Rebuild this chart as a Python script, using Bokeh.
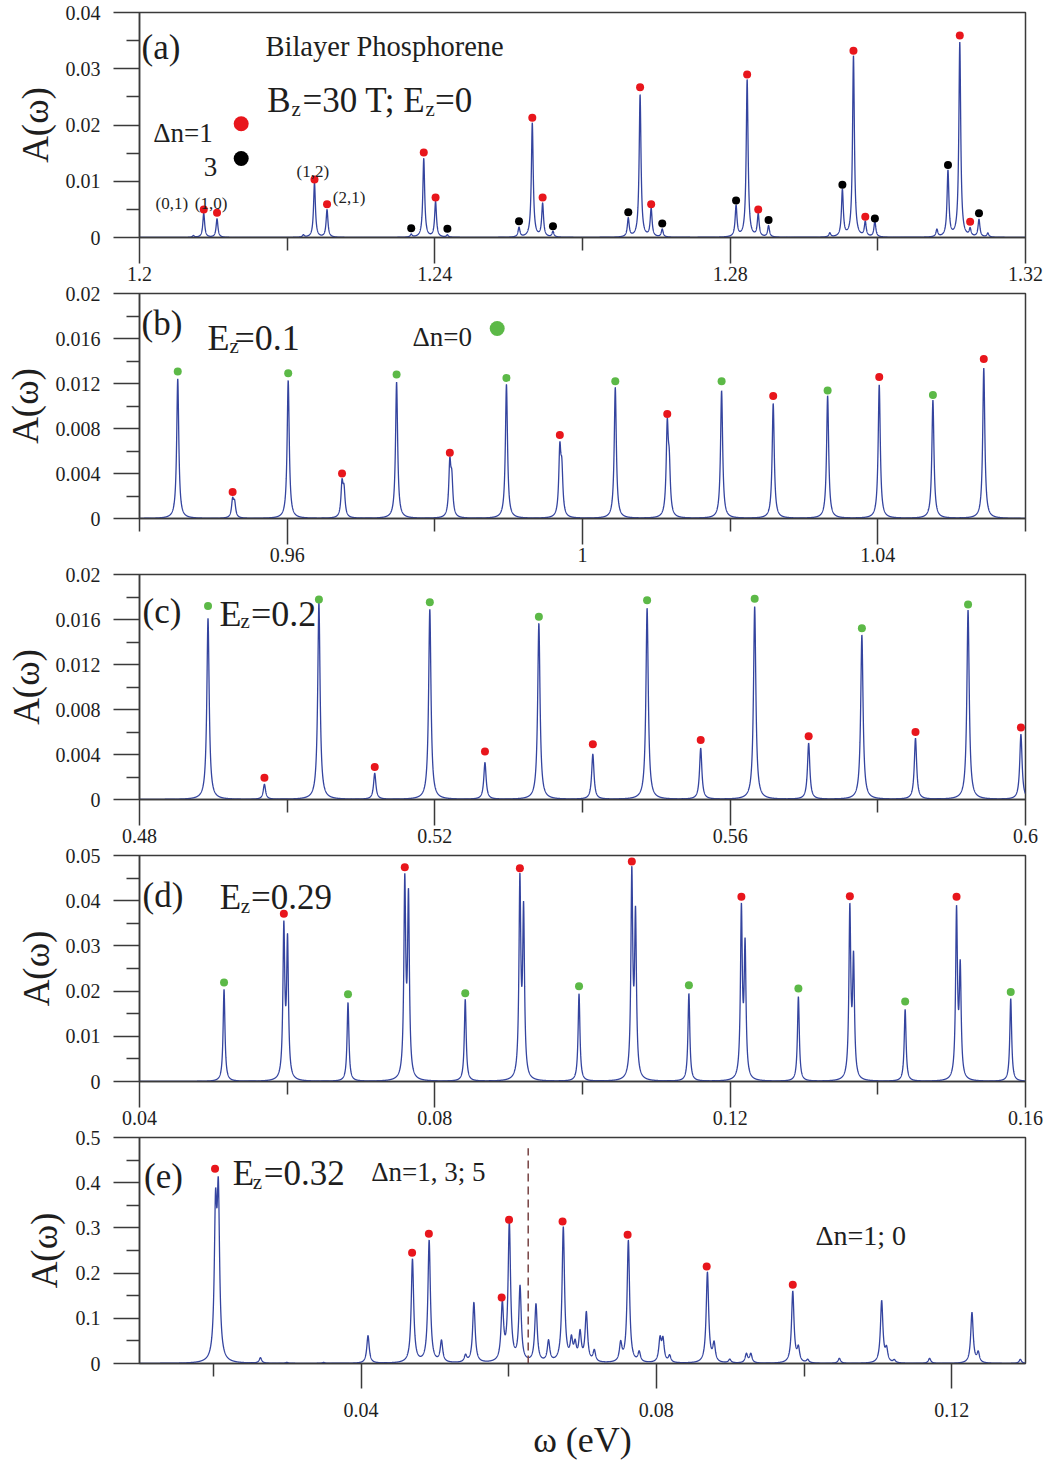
import numpy as np
from bokeh.plotting import figure
from bokeh.models import FixedTicker, Label, CustomJSTickFormatter
from bokeh.layouts import column
from bokeh.embed import file_html
from bokeh.resources import INLINE

FONT = "Liberation Serif"
INK = "#1e1e1e"
AXIS = "#3a3a3a"
CURVE = "#34449f"
RED = "#e8161c"
GREEN = "#5cb947"
BLACK = "#000000"
DASH = "#7d4b4b"
TOTAL_W = 1045

# ------------------------------------------------------------------ data
# (a) Bz = 30 T, Ez = 0
a_peak_x = [1.2073, 1.2087, 1.2105, 1.2222, 1.2237, 1.2254, 1.2368, 1.2385, 1.2401, 1.2417,
            1.2514, 1.2532, 1.2546, 1.2560, 1.2662, 1.2678, 1.2693, 1.2708,
            1.2808, 1.2823, 1.2838, 1.2852, 1.2935, 1.2952, 1.2967, 1.2983, 1.2996,
            1.3080, 1.3095, 1.3111, 1.3125, 1.3137, 1.3149]
a_peak_h = [0.0003, 0.0043, 0.0033, 0.0004, 0.0097, 0.0049, 0.0005, 0.0140, 0.0063, 0.0004,
            0.0017, 0.0203, 0.0059, 0.0010, 0.0033, 0.0253, 0.0050, 0.0014,
            0.0055, 0.0280, 0.0040, 0.0020, 0.0007, 0.0083, 0.0322, 0.0026, 0.0028,
            0.0013, 0.0117, 0.0346, 0.0013, 0.0031, 0.0007]
a_gamma = 0.00015
a_red_x = [1.2087, 1.2105, 1.2237, 1.2254, 1.2385, 1.2401, 1.2532, 1.2546, 1.2678, 1.2693,
           1.2823, 1.2838, 1.2967, 1.2983, 1.3111, 1.3125]
a_red_y = [0.0050, 0.0044, 0.0103, 0.0059, 0.0151, 0.0071, 0.0213, 0.0071, 0.0267, 0.0059,
           0.0290, 0.0050, 0.0332, 0.0037, 0.0359, 0.0028]
a_black_x = [1.2368, 1.2417, 1.2514, 1.2560, 1.2662, 1.2708, 1.2808, 1.2852, 1.2952, 1.2996,
             1.3095, 1.3137]
a_black_y = [0.00165, 0.00155, 0.0029, 0.0020, 0.0045, 0.0025, 0.0066, 0.0031, 0.0094, 0.0034,
             0.0129, 0.0043]

# (b) Ez = 0.1
b_peak_x = [0.94518, 0.95261, 0.95288, 0.96014, 0.96743, 0.96770, 0.97482, 0.98203, 0.98230,
            0.98970, 0.99693, 0.99720, 1.00444, 1.01148, 1.01175, 1.01884, 1.02583, 1.03320,
            1.04019, 1.04746, 1.05435]
b_peak_h = [0.01241, 0.00151, 0.00124, 0.01226, 0.00288, 0.00222, 0.01211, 0.00459, 0.00302,
            0.01190, 0.00572, 0.00375, 0.01163, 0.00776, 0.00397, 0.01134, 0.01020, 0.01089,
            0.01187, 0.01050, 0.01335]
b_gamma = 0.00017
b_green_x = [0.94518, 0.96014, 0.97482, 0.98970, 1.00444, 1.01884, 1.03320, 1.04746]
b_green_y = [0.01306, 0.01291, 0.01279, 0.01250, 0.01220, 0.01220, 0.01137, 0.01098]
b_red_x = [0.95261, 0.96743, 0.98203, 0.99693, 1.01148, 1.02583, 1.04019, 1.05435]
b_red_y = [0.00236, 0.00399, 0.00585, 0.00742, 0.00929, 0.01089, 0.01258, 0.01418]

# (c) Ez = 0.2
c_peak_x = [0.48928, 0.49692, 0.50430, 0.51186, 0.51932, 0.52679, 0.53409, 0.54140,
            0.54875, 0.55601, 0.56332, 0.57063, 0.57784, 0.58510, 0.59222, 0.59938]
c_peak_h = [0.01609, 0.00133, 0.01748, 0.00231, 0.01689, 0.00326, 0.01564, 0.00400,
            0.01698, 0.00453, 0.01713, 0.00498, 0.01461, 0.00542, 0.01683, 0.00578]
c_gamma = 0.00019
c_green_x = [0.48928, 0.50430, 0.51932, 0.53409, 0.54875, 0.56332, 0.57784, 0.59222]
c_green_y = [0.01719, 0.01778, 0.01754, 0.01624, 0.01772, 0.01784, 0.01523, 0.01733]
c_red_x = [0.49692, 0.51186, 0.52679, 0.54140, 0.55601, 0.57063, 0.58510, 0.59938]
c_red_y = [0.00193, 0.00290, 0.00427, 0.00492, 0.00530, 0.00563, 0.00599, 0.00640]

# (d) Ez = 0.29
d_peak_x = [0.05145, 0.05955, 0.06005, 0.06824, 0.07593, 0.07643, 0.08412, 0.09152, 0.09202,
            0.09953, 0.10668, 0.10718, 0.11441, 0.12152, 0.12202, 0.12924, 0.13621, 0.13671,
            0.14370, 0.15066, 0.15116, 0.15800]
d_peak_h = [0.02035, 0.0331, 0.0300, 0.01740, 0.0428, 0.0392, 0.01810, 0.0431, 0.0363,
            0.01930, 0.0447, 0.0351, 0.01940, 0.0371, 0.0287, 0.01870, 0.0373, 0.0258,
            0.01590, 0.0370, 0.0239, 0.01830]
d_gamma = 0.00015
d_green_x = [0.05145, 0.06824, 0.08412, 0.09953, 0.11441, 0.12924, 0.14370, 0.15800]
d_green_y = [0.0219, 0.0193, 0.0195, 0.0211, 0.0213, 0.0206, 0.0177, 0.0198]
d_red_x = [0.05955, 0.07593, 0.09152, 0.10668, 0.12152, 0.13621, 0.15066]
d_red_y = [0.0371, 0.0474, 0.0472, 0.0487, 0.0409, 0.0410, 0.0409]

# (e) Ez = 0.32
e_peak_x = [0.02030, 0.02068, 0.02638, 0.02995, 0.03493, 0.04095, 0.04697, 0.04923, 0.05090,
            0.05416, 0.05529, 0.05914, 0.06009, 0.06154, 0.06370, 0.06540, 0.06740, 0.06850,
            0.06900, 0.06967, 0.07052, 0.07160, 0.07517, 0.07621, 0.07768, 0.08050, 0.08090,
            0.08180, 0.08692, 0.08782, 0.08995, 0.09220, 0.09280, 0.09848, 0.09924, 0.10050,
            0.10479, 0.11052, 0.11118, 0.11223, 0.11701, 0.12275, 0.12360, 0.12930]
e_peak_h = [0.311, 0.344, 0.012, 0.002, 0.002, 0.061, 0.229, 0.270, 0.047,
            0.015, 0.133, 0.125, 0.305, 0.165, 0.128, 0.046, 0.298, 0.045,
            0.035, 0.062, 0.108, 0.025, 0.040, 0.270, 0.022, 0.050, 0.048,
            0.015, 0.200, 0.040, 0.008, 0.020, 0.020, 0.158, 0.030, 0.007,
            0.011, 0.137, 0.028, 0.006, 0.011, 0.112, 0.022, 0.009]
e_gamma = 0.0002
e_red_x = [0.02023, 0.04692, 0.04919, 0.05905, 0.06005, 0.06730, 0.07611, 0.08682, 0.09848]
e_red_y = [0.431, 0.2448, 0.2869, 0.146, 0.3178, 0.314, 0.2846, 0.2146, 0.174]
e_dash_x = 0.06265
e_dash_top = 0.476

# axis ticks
a_xt = ([1.2, 1.24, 1.28, 1.32], ["1.2", "1.24", "1.28", "1.32"], [1.22, 1.26, 1.30])
a_yt = ([0, 0.01, 0.02, 0.03, 0.04], ["0", "0.01", "0.02", "0.03", "0.04"],
        [0.005, 0.015, 0.025, 0.035])
b_xt = ([0.96, 1.0, 1.04], ["0.96", "1", "1.04"], [0.94, 0.98, 1.02, 1.06])
bc_yt = ([0, 0.004, 0.008, 0.012, 0.016, 0.02], ["0", "0.004", "0.008", "0.012", "0.016", "0.02"],
         [0.002, 0.006, 0.010, 0.014, 0.018])
c_xt = ([0.48, 0.52, 0.56, 0.6], ["0.48", "0.52", "0.56", "0.6"], [0.50, 0.54, 0.58])
d_xt = ([0.04, 0.08, 0.12, 0.16], ["0.04", "0.08", "0.12", "0.16"], [0.06, 0.10, 0.14])
d_yt = ([0, 0.01, 0.02, 0.03, 0.04, 0.05], ["0", "0.01", "0.02", "0.03", "0.04", "0.05"],
        [0.005, 0.015, 0.025, 0.035, 0.045])
e_xt = ([0.04, 0.08, 0.12], ["0.04", "0.08", "0.12"], [0.02, 0.06, 0.10])
e_yt = ([0, 0.1, 0.2, 0.3, 0.4, 0.5], ["0", "0.1", "0.2", "0.3", "0.4", "0.5"],
        [0.05, 0.15, 0.25, 0.35, 0.45])


# ------------------------------------------------------------------ helpers
def spectrum(xr, centers, heights, gamma, n=12000):
    x = np.linspace(xr[0], xr[1], n)
    y = np.zeros(n)
    for c, h in zip(centers, heights):
        y += h * gamma ** 2 / ((x - c) ** 2 + gamma ** 2)
    return x, y


def fmt(ticks, labels):
    return CustomJSTickFormatter(args=dict(t=list(ticks), l=list(labels)), code="""
        for (let i = 0; i < t.length; i++) { if (Math.abs(t[i] - tick) < 1e-9) return l[i]; }
        return "";""")


def style_axis(ax, ticks, tick_out, standoff):
    major, labels, minor = ticks
    ax.ticker = FixedTicker(ticks=major, minor_ticks=minor)
    ax.formatter = fmt(major, labels)
    ax.axis_line_color = AXIS
    ax.axis_line_width = 1.5
    ax.major_tick_line_color = AXIS
    ax.major_tick_line_width = 1.5
    ax.minor_tick_line_color = AXIS
    ax.minor_tick_line_width = 1.5
    ax.major_tick_in = 0
    ax.minor_tick_in = 0
    ax.major_tick_out = tick_out
    ax.minor_tick_out = 13
    ax.major_label_standoff = standoff
    ax.major_label_text_font = FONT
    ax.major_label_text_font_size = "20px"
    ax.major_label_text_color = INK
    ax.axis_label_text_font = FONT
    ax.axis_label_text_font_style = "normal"
    ax.axis_label_text_color = INK


def build(ref, xr, yr, btop, bbot, xt, yt, ylab_standoff, xstand=3, xtick=26):
    l, t, r, b = ref
    fw, fh = r - l, b - t
    right = TOTAL_W - l - fw
    p = figure(frame_width=fw, frame_height=fh, x_range=xr, y_range=yr,
               output_backend="svg", toolbar_location=None,
               min_border_left=l, min_border_right=right,
               min_border_top=btop, min_border_bottom=bbot)
    p.xgrid.grid_line_color = None
    p.ygrid.grid_line_color = None
    p.outline_line_color = AXIS
    p.outline_line_width = 1.5
    p.background_fill_color = "white"
    p.border_fill_color = "white"
    style_axis(p.xaxis[0], xt, xtick, xstand)
    style_axis(p.yaxis[0], yt, 26, 13)
    p.yaxis[0].axis_label = "A(ω)"
    p.yaxis[0].axis_label_text_font_size = "37px"
    p.yaxis[0].axis_label_standoff = ylab_standoff

    def at(px, py):
        return (xr[0] + (px - l) / fw * (xr[1] - xr[0]),
                yr[0] + (b - py) / fh * (yr[1] - yr[0]))
    return p, at


def text(p, at, s, px, py, size):
    x, y = at(px, py)
    p.add_layout(Label(x=x, y=y, text=s, text_font=FONT, text_font_size=f"{size}px",
                       text_color=INK, text_align="left", text_baseline="alphabetic"))


def big_dot(p, at, px, py, color):
    x, y = at(px, py)
    p.scatter([x], [y], size=15, fill_color=color, line_color=None)


def curve(p, xr, px, ph, g):
    x, y = spectrum(xr, px, ph, g)
    p.line(x, y, line_color=CURVE, line_width=1.3)


def dots(p, xs, ys, color):
    p.scatter(xs, ys, size=8, fill_color=color, line_color=None)


# ------------------------------------------------------------------ panel (a)
pa, ata = build((139, 12, 1025, 237), (1.2, 1.32), (0, 0.04), 12, 46, a_xt, a_yt, 7)
curve(pa, (1.2, 1.32), a_peak_x, a_peak_h, a_gamma)
dots(pa, a_red_x, a_red_y, RED)
dots(pa, a_black_x, a_black_y, BLACK)
text(pa, ata, "(a)", 141, 46.7, 35)
text(pa, ata, "Bilayer Phosphorene", 265, 45.7, 28.5)
text(pa, ata, "B", 266.7, 100, 35)
text(pa, ata, "z", 291, 108, 21)
text(pa, ata, "=30 T; E", 302, 100, 35)
text(pa, ata, "z", 425, 108, 21)
text(pa, ata, "=0", 434.5, 100, 35)
text(pa, ata, "Δn=1", 152.7, 132.3, 27)
text(pa, ata, "3", 203.3, 166.7, 27)
big_dot(pa, ata, 240.7, 123.3, RED)
big_dot(pa, ata, 240.7, 158, BLACK)
text(pa, ata, "(0,1)", 155, 202.5, 17)
text(pa, ata, "(1,0)", 194.3, 202.5, 17)
text(pa, ata, "(1,2)", 296, 170.7, 17)
text(pa, ata, "(2,1)", 332.3, 197.3, 17)

# ------------------------------------------------------------------ panel (b)
pb, atb = build((139, 293, 1025, 518), (0.94, 1.06), (0, 0.02), 10, 45, b_xt, bc_yt, 7)
curve(pb, (0.94, 1.06), b_peak_x, b_peak_h, b_gamma)
dots(pb, b_green_x, b_green_y, GREEN)
dots(pb, b_red_x, b_red_y, RED)
text(pb, atb, "(b)", 141, 323.3, 35)
text(pb, atb, "E", 207, 337.3, 36)
text(pb, atb, "z", 229, 345, 21)
text(pb, atb, "=0.1", 234, 337.3, 36)
text(pb, atb, "Δn=0", 412, 336, 27)
big_dot(pb, atb, 496.7, 328, GREEN)

# ------------------------------------------------------------------ panel (c)
pc, atc = build((138, 571, 1024, 796), (0.48, 0.60), (0, 0.02), 10, 45, c_xt, bc_yt, 6)
curve(pc, (0.48, 0.60), c_peak_x, c_peak_h, c_gamma)
dots(pc, c_green_x, c_green_y, GREEN)
dots(pc, c_red_x, c_red_y, RED)
text(pc, atc, "(c)", 141, 608.3, 35)
text(pc, atc, "E", 218, 610, 36)
text(pc, atc, "z", 239, 617, 21)
text(pc, atc, "=0.2", 249.5, 610, 36)

# ------------------------------------------------------------------ panel (d)
pd, atd = build((138, 850, 1024, 1076), (0.04, 0.16), (0, 0.05), 10, 45, d_xt, d_yt, 6)
curve(pd, (0.04, 0.16), d_peak_x, d_peak_h, d_gamma)
dots(pd, d_green_x, d_green_y, GREEN)
dots(pd, d_red_x, d_red_y, RED)
text(pd, atd, "(d)", 141, 890, 35)
text(pd, atd, "E", 218.3, 891.7, 35)
text(pd, atd, "z", 239.3, 900.7, 21)
text(pd, atd, "=0.29", 249.5, 891.7, 35)

# ------------------------------------------------------------------ panel (e)
pe, ate = build((135, 1131, 1021, 1357), (0.01, 0.13), (0, 0.5), 10, 107, e_xt, e_yt, 8,
                xstand=14, xtick=25)
curve(pe, (0.01, 0.13), e_peak_x, e_peak_h, e_gamma)
pe.segment(x0=[e_dash_x], y0=[0], x1=[e_dash_x], y1=[e_dash_top],
           line_color=DASH, line_width=1.6, line_dash="8 5")
dots(pe, e_red_x, e_red_y, RED)
text(pe, ate, "(e)", 139.5, 1170, 35)
text(pe, ate, "E", 228.3, 1166.7, 35)
text(pe, ate, "z", 248.3, 1175, 21)
text(pe, ate, "=0.32", 259.3, 1166.7, 35)
text(pe, ate, "Δn=1, 3; 5", 366.7, 1165, 27)
text(pe, ate, "Δn=1; 0", 811, 1229, 28)
pe.xaxis[0].axis_label = "ω (eV)"
pe.xaxis[0].axis_label_text_font_size = "36px"
pe.xaxis[0].axis_label_standoff = 0

layout = column(pa, pb, pc, pd, pe)
open("out.html", "w").write(file_html(layout, INLINE))
